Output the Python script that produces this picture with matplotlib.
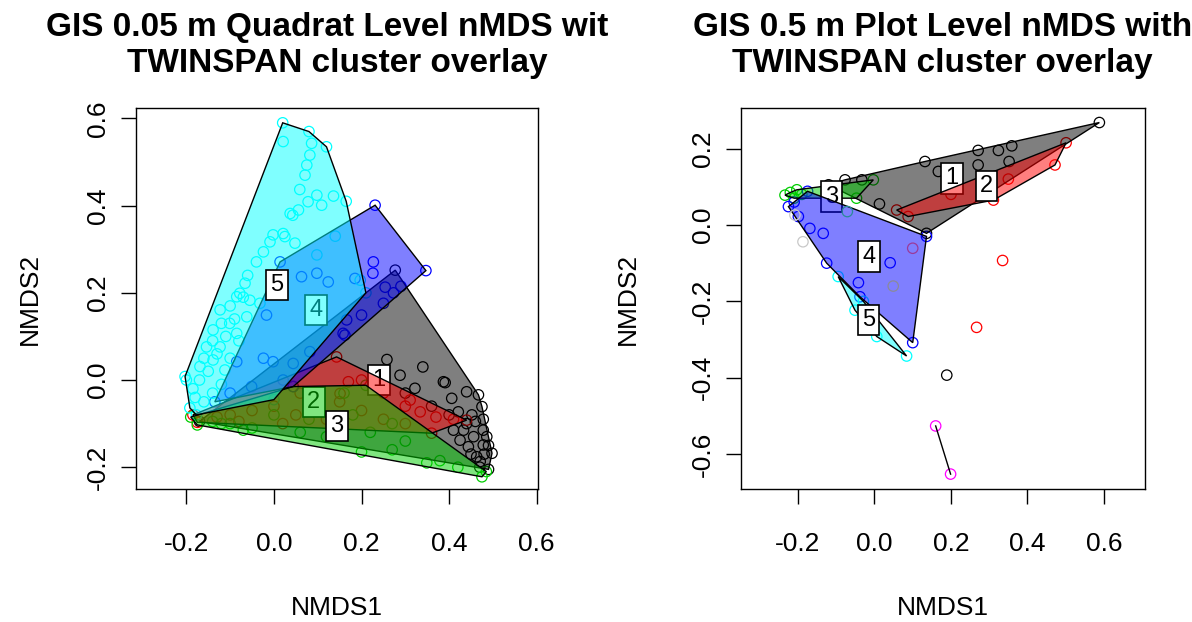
import matplotlib
matplotlib.use('Agg')
import matplotlib.pyplot as plt
from matplotlib.patches import Polygon
from matplotlib.colors import to_rgba
from matplotlib.transforms import Bbox, TransformedBbox

plt.rcParams['font.family'] = ['Liberation Sans', 'DejaVu Sans']

# ---- 0.05 m quadrat level nMDS scores, by TWINSPAN cluster ----
q1_x = [0.277, 0.467, 0.498, 0.49, -0.17, 0.258, 0.288, 0.391, 0.44, 0.406, 0.475, 0.421,
        0.452, 0.478, 0.486, 0.471, 0.444, 0.425, 0.41, 0.456, 0.433, 0.463, 0.478, 0.322,
        0.387, 0.46, 0.478, 0.47, 0.45, 0.48, 0.44, 0.49, 0.34, 0.3, 0.36, 0.4]
q1_y = [0.252, -0.034, -0.168, -0.205, -0.095, 0.047, 0.011, -0.006, -0.027, -0.042, -0.061, -0.073,
        -0.08, -0.115, -0.13, -0.187, -0.153, -0.138, -0.115, -0.13, -0.115, -0.176, -0.149, -0.019,
        -0.004, -0.095, -0.09, -0.2, -0.17, -0.17, -0.1, -0.15, 0.03, -0.03, -0.06, -0.08]

q2_x = [-0.185, 0.143, 0.44, 0.36, -0.175, 0.334, 0.311, 0.17, 0.151, 0.2, 0.25, 0.3, 0.37,
        0.41, 0.06, 0.1, 0.15, 0.2, -0.05, -0.1, 0.0, 0.12, 0.25, 0.3, 0.05, -0.13, 0.02, -0.08]
q2_y = [-0.08, 0.053, -0.092, -0.122, -0.097, -0.073, -0.046, -0.004, -0.031, 0.0, -0.03, -0.06, -0.085,
        -0.09, -0.03, -0.06, -0.05, -0.07, -0.07, -0.08, -0.06, -0.09, -0.09, -0.1, -0.08, -0.085, -0.1, -0.095]

q3_x = [-0.19, 0.044, 0.21, 0.485, 0.475, -0.175, 0.349, 0.379, 0.2, 0.12, 0.06, -0.05, -0.1,
        -0.14, 0.27, 0.3, 0.22, 0.15, 0.08, 0.0, 0.18, 0.27, -0.07, 0.1, 0.16, 0.42, -0.12]
q3_y = [-0.085, -0.015, -0.012, -0.21, -0.222, -0.103, -0.19, -0.185, -0.165, -0.13, -0.12, -0.11, -0.1,
        -0.095, -0.16, -0.14, -0.12, -0.1, -0.09, -0.08, -0.08, -0.1, -0.115, -0.04, -0.03, -0.2, -0.1]

q4_x = [0.231, 0.347, 0.044, -0.135, 0.014, 0.227, 0.226, 0.185, 0.254, 0.29, 0.25, 0.273, 0.2,
        0.162, 0.063, 0.098, 0.124, -0.017, -0.085, -0.024, -0.002, 0.044, 0.082, 0.021, -0.051,
        -0.1, 0.158, 0.166]
q4_y = [0.401, 0.251, -0.015, -0.05, 0.271, 0.271, 0.245, 0.233, 0.213, 0.215, 0.176, 0.2, 0.149,
        0.103, 0.237, 0.245, 0.225, 0.149, 0.042, 0.05, 0.042, 0.038, 0.065, 0.0, -0.015,
        -0.03, 0.107, 0.138]

q5_x = [0.02, 0.08, 0.12, 0.165, 0.21, 0.0, -0.177, -0.192, -0.203, 0.021, 0.086, 0.082, 0.075,
        0.071, 0.059, 0.098, 0.109, 0.136, 0.078, 0.056, 0.037, 0.043, 0.021, -0.002, -0.009,
        0.048, 0.025, -0.024, -0.04, -0.066, -0.078, -0.123, -0.085, -0.055, -0.139, -0.101,
        -0.154, -0.123, -0.169, -0.139, -0.185, -0.2, -0.112, -0.085, -0.062, -0.032, 0.197,
        -0.16, -0.14, -0.12, -0.1, -0.17, -0.15, -0.13, -0.11, -0.09, -0.07, -0.06, -0.14,
        -0.16, -0.18, -0.12, -0.1, -0.08, 0.098, 0.14]
q5_y = [0.59, 0.57, 0.535, 0.41, 0.2, -0.045, -0.08, -0.064, 0.008, 0.547, 0.543, 0.516, 0.493,
        0.47, 0.437, 0.424, 0.401, 0.422, 0.409, 0.39, 0.382, 0.378, 0.336, 0.333, 0.317,
        0.314, 0.329, 0.294, 0.271, 0.222, 0.199, 0.161, 0.191, 0.183, 0.115, 0.13,
        0.076, 0.076, 0.031, 0.046, -0.02, 0.0, 0.023, 0.107, 0.145, 0.176, 0.229,
        0.05, 0.09, 0.13, 0.17, 0.0, 0.02, 0.06, 0.1, 0.14, 0.19, 0.24, -0.03,
        -0.05, -0.04, -0.01, 0.05, 0.09, 0.287, 0.33]

q_lab_x = [0.24, 0.091, 0.144, 0.096, 0.007]
q_lab_y = [0.0, -0.05, -0.105, 0.161, 0.218]

# ---- 0.5 m plot level nMDS scores ----
p1_x = [0.588, 0.359, 0.324, 0.271, 0.352, 0.271, 0.167, 0.132, -0.033, -0.077, -0.12, 0.013, 0.136]
p1_y = [0.268, 0.207, 0.195, 0.195, 0.166, 0.157, 0.14, 0.166, 0.118, 0.118, 0.105, 0.055, -0.022]

p2_x = [0.501, 0.472, 0.311, 0.058, 0.088, 0.2, 0.35]
p2_y = [0.215, 0.157, 0.065, 0.039, 0.022, 0.08, 0.12]

p3_x = [-0.234, -0.22, -0.203, -0.19, -0.003, -0.047, -0.21]
p3_y = [0.078, 0.085, 0.092, 0.08, 0.118, 0.07, 0.07]

p4_x = [-0.225, -0.175, -0.199, -0.169, -0.134, -0.125, -0.042, -0.038, 0.041, 0.1, 0.136, -0.21]
p4_y = [0.048, 0.088, 0.022, -0.009, -0.022, -0.1, -0.151, -0.188, -0.099, -0.308, -0.03, 0.06]

p5_x = [-0.095, -0.029, 0.084, 0.006, -0.051]
p5_y = [-0.135, -0.2, -0.343, -0.292, -0.223]

p6_x = [0.16, 0.199]
p6_y = [-0.526, -0.652]

# plots that fall outside the drawn hulls
p_other_x = [0.335, 0.267, 0.189, 0.1, 0.049, -0.187, -0.208, -0.071]
p_other_y = [-0.093, -0.268, -0.393, -0.061, -0.16, -0.044, 0.026, 0.035]
p_other_col = ['red', 'red', 'black', '#9a3a9a', '#8a8a9a', '#c8c8c8', '#c8c8c8', '#2a8a9a']

p_lab_x = [0.202, 0.293, -0.112, -0.014, -0.016]
p_lab_y = [0.122, 0.102, 0.074, -0.083, -0.249]

cluster_cols = ['black', 'red', '#00cd00', 'blue', 'cyan', 'magenta']

x_ticks = [-0.2, 0.0, 0.2, 0.4, 0.6]
q_yticks = [-0.2, 0.0, 0.2, 0.4, 0.6]
p_yticks = [-0.6, -0.4, -0.2, 0.0, 0.2]

W, H = 1192, 622


def convex_hull(xs, ys):
    pts = sorted(set(zip(xs, ys)))
    if len(pts) < 3:
        return pts

    def cross(o, a, b):
        return (a[0] - o[0]) * (b[1] - o[1]) - (a[1] - o[1]) * (b[0] - o[0])

    lower = []
    for p in pts:
        while len(lower) >= 2 and cross(lower[-2], lower[-1], p) <= 0:
            lower.pop()
        lower.append(p)
    upper = []
    for p in reversed(pts):
        while len(upper) >= 2 and cross(upper[-2], upper[-1], p) <= 0:
            upper.pop()
        upper.append(p)
    return lower[:-1] + upper[:-1]


def ordihull(ax, groups, lab_x, lab_y):
    # points first, then each hull followed by its label
    for k, (gx, gy) in enumerate(groups):
        ax.scatter(gx, gy, s=56, facecolors='none', edgecolors=cluster_cols[k],
                   linewidths=0.9, zorder=1)
    for k, (gx, gy) in enumerate(groups):
        h = convex_hull(gx, gy)
        if len(h) >= 3:
            ax.add_patch(Polygon(h, closed=True, facecolor=to_rgba(cluster_cols[k], 0.5),
                                 edgecolor='black', lw=1.0, zorder=2 + 2 * k))
        else:
            ax.plot([p[0] for p in h], [p[1] for p in h], color='black', lw=1.0,
                    zorder=2 + 2 * k)
        if k < len(lab_x):
            ax.text(lab_x[k], lab_y[k], str(k + 1), ha='center', va='center', fontsize=17,
                    zorder=3 + 2 * k,
                    bbox=dict(boxstyle='square,pad=0.18', fc='white', ec='black', lw=1.2))


def style_axes(ax, xlim, ylim, yticks):
    ax.set_xlim(*xlim)
    ax.set_ylim(*ylim)
    ax.set_xticks(x_ticks)
    ax.set_xticklabels(['%.1f' % v for v in x_ticks])
    ax.set_yticks(yticks)
    ax.set_yticklabels(['%.1f' % v for v in yticks], rotation=90, va='center')
    ax.tick_params(axis='both', direction='out', length=10.8, width=1.0, labelsize=19)
    ax.tick_params(axis='x', pad=20)
    ax.tick_params(axis='y', pad=8)
    for s in ax.spines.values():
        s.set_linewidth(1.0)
    ax.set_xlabel('NMDS1', fontsize=19)
    ax.set_ylabel('NMDS2', fontsize=19)


fig = plt.figure(figsize=(W / 100, H / 100), dpi=100)
ax1 = fig.add_axes([136 / W, 1 - 489 / H, 402 / W, 381 / H])
ax2 = fig.add_axes([741 / W, 1 - 489 / H, 403.5 / W, 381 / H])

ordihull(ax1, [(q1_x, q1_y), (q2_x, q2_y), (q3_x, q3_y), (q4_x, q4_y), (q5_x, q5_y)],
         q_lab_x, q_lab_y)
style_axes(ax1, (-0.315, 0.603), (-0.25, 0.624), q_yticks)
ax1.xaxis.set_label_coords(0.5, -0.28)
ax1.yaxis.set_label_coords(-0.235, 0.5)

ordihull(ax2, [(p1_x, p1_y), (p2_x, p2_y), (p3_x, p3_y), (p4_x, p4_y), (p5_x, p5_y),
               (p6_x, p6_y)], p_lab_x, p_lab_y)
ax2.scatter(p_other_x, p_other_y, s=56, facecolors='none', edgecolors=p_other_col,
            linewidths=0.9, zorder=20)
style_axes(ax2, (-0.349, 0.706), (-0.691, 0.306), p_yticks)
ax2.xaxis.set_label_coords(0.5, -0.28)
ax2.yaxis.set_label_coords(-0.25, 0.5)

# two-line titles, clipped to each panel's region
titles = [(337, 0, 608, ['GIS 0.05 m Quadrat Level nMDS with', 'TWINSPAN cluster overlay']),
          (942.5, 608, W, ['GIS 0.5 m Plot Level nMDS with', 'TWINSPAN cluster overlay'])]
for cx, x0, x1, lines in titles:
    for k, line in enumerate(lines):
        t = fig.text(cx / W, 1 - (36 + 36 * k) / H, line, ha='center', va='baseline',
                     fontsize=24, fontweight='bold')
        t.set_clip_box(TransformedBbox(Bbox([[x0 / W, 0], [x1 / W, 1]]), fig.transFigure))
        t.set_clip_on(True)

fig.savefig('out.png', dpi=100)
